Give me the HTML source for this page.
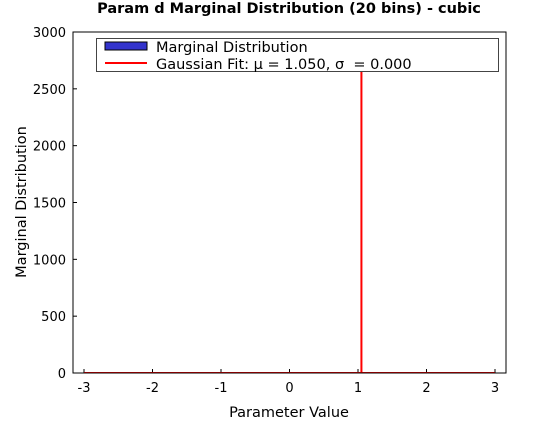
<!DOCTYPE html>
<html><head><meta charset="utf-8"><style>
body{margin:0;background:#fff;}
svg{font-family:"DejaVu Sans","Liberation Sans",sans-serif;}
</style></head><body>
<svg width="560" height="420" xmlns="http://www.w3.org/2000/svg">
<rect width="560" height="420" fill="#fff"/>
<text x="289" y="13" text-anchor="middle" font-size="14.5" font-weight="bold">Param d Marginal Distribution (20 bins) - cubic</text>
<defs><clipPath id="pc"><rect x="73" y="32" width="433" height="341"/></clipPath></defs>
<g id="xt"></g>
<g id="yt"></g>
<g id="series" clip-path="url(#pc)"></g>
<rect x="73" y="32" width="433" height="341" fill="none" stroke="#000" stroke-width="1"/>
<g>
<rect x="96.5" y="38.5" width="402" height="33" fill="#fff" stroke="#444"/>
<rect x="105" y="42" width="42" height="8" fill="#3333cc" stroke="#000"/>
<text x="156" y="52" font-size="14.5">Marginal Distribution</text>
<line x1="105" y1="63" x2="147" y2="63" stroke="#f00" stroke-width="2"/>
<text x="156" y="69" font-size="14.5" xml:space="preserve">Gaussian Fit: μ = 1.050, σ  = 0.000</text>
</g>
<text x="289" y="417" text-anchor="middle" font-size="14.5">Parameter Value</text>
<text transform="translate(26,202) rotate(-90)" text-anchor="middle" font-size="14.5">Marginal Distribution</text>
</svg>
<script>
const xTicks=[-3,-2,-1,0,1,2,3];
const yTicks=[0,500,1000,1500,2000,2500,3000];
const fitMu=[1.05];
const fitPeak=[2700];
const NS="http://www.w3.org/2000/svg";
const X=v=>289.5+v*68.5, Y=v=>373-v*(341/3000);
function mk(t,a,p){const e=document.createElementNS(NS,t);for(const k in a)e.setAttribute(k,a[k]);p.appendChild(e);return e;}
const xt=document.getElementById('xt'),yt=document.getElementById('yt'),s=document.getElementById('series');
xTicks.forEach(v=>{const l=mk('line',{x1:X(v),x2:X(v),y1:373,y2:369,stroke:'#000'},xt);


const t=mk('text',{x:X(v),y:392,'text-anchor':'middle','font-size':13},xt);t.textContent=v;

});
yTicks.forEach(v=>{const l=mk('line',{x1:73,x2:77,y1:Y(v),y2:Y(v),stroke:'#000'},yt);


const t=mk('text',{x:66,y:Y(v)+5,'text-anchor':'end','font-size':13},yt);t.textContent=v;

});
const mu=fitMu[0],pk=fitPeak[0];
const p=mk('path',{d:`M${X(-3)},${Y(0)} L${X(mu)},${Y(0)} L${X(mu)},${Y(pk)} L${X(mu)},${Y(0)} L${X(3)},${Y(0)}`,fill:'none',stroke:'#f00','stroke-width':2},s);


</script>
</body></html>
